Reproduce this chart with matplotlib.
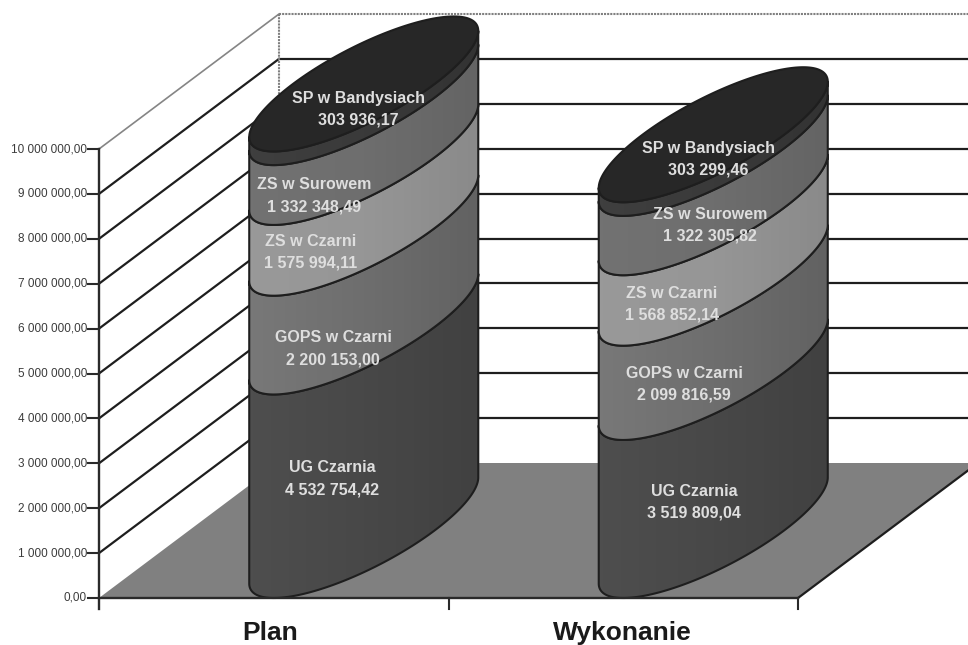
import numpy as np
import matplotlib
matplotlib.use('Agg')
import matplotlib.pyplot as plt
from matplotlib.colors import LinearSegmentedColormap, to_rgb
from matplotlib.patches import Polygon

plt.rcParams['font.family'] = ['Liberation Sans', 'DejaVu Sans']

categories = ['Plan', 'Wykonanie']
series_names = ['UG Czarnia', 'GOPS w Czarni', 'ZS w Czarni', 'ZS w Surowem', 'SP w Bandysiach']
plan_values = [4532754.42, 2200153.00, 1575994.11, 1332348.49, 303936.17]
wyk_values = [3519809.04, 2099816.59, 1568852.14, 1322305.82, 303299.46]
plan_labels = ['4 532 754,42', '2 200 153,00', '1 575 994,11', '1 332 348,49', '303 936,17']
wyk_labels = ['3 519 809,04', '2 099 816,59', '1 568 852,14', '1 322 305,82', '303 299,46']
y_ticks = [0, 1000000, 2000000, 3000000, 4000000, 5000000, 6000000, 7000000, 8000000, 9000000, 10000000]
y_labels = ['0,00', '1 000 000,00', '2 000 000,00', '3 000 000,00', '4 000 000,00', '5 000 000,00',
            '6 000 000,00', '7 000 000,00', '8 000 000,00', '9 000 000,00', '10 000 000,00']

# left, middle, right shade of each cylinder band
side_colors = [('#4e4e4e', '#484848', '#414141'),
               ('#787878', '#6e6e6e', '#626262'),
               ('#999999', '#969696', '#8a8a8a'),
               ('#727272', '#6e6e6e', '#646464'),
               ('#3f3f3f', '#3a3a3a', '#333333')]
top_color = '#272727'
floor_color = '#808080'
line_color = '#1e1e1e'

# layout in pixels of the 968x645 picture
W, H = 968, 645
X0 = 99.0        # front of the value axis
Y0 = 598.0       # row of value 0
PX_PER_UNIT = 449.0 / 10000000
CAT_W = 349.5
DEPTH_X, DEPTH_Y = 180.0, 135.0
RU = 70.8        # ellipse half width across the category
RV = 0.5         # half depth, cylinder fills the floor

# label centres (px from left, first line row from top), same order as series
plan_pos = [(332, 468), (333, 338), (311, 241), (314, 185), (358, 98)]
wyk_pos = [(694, 491), (684, 373), (672, 293), (710, 214), (708, 148)]
cat_label_x = [270, 622.5]

fig = plt.figure(figsize=(W / 100, H / 100), dpi=100)
ax = fig.add_axes([0, 0, 1, 1])
ax.axis('off')

depth_v = DEPTH_Y / PX_PER_UNIT

# the leftmost point of the sheared ellipse, from there along the front to the rightmost
t_right = np.arctan2(DEPTH_X * RV, RU)
t_front = np.linspace(t_right + np.pi, t_right + 2 * np.pi, 200)
t_all = np.linspace(0, 2 * np.pi, 400)


def row(r):
    # pixel row from the top -> value on the y scale
    return (Y0 - r) / PX_PER_UNIT


def ellipse(cat, value, t):
    cx = X0 + (cat + 0.5) * CAT_W + DEPTH_X * RV
    x = cx + RU * np.cos(t) + DEPTH_X * RV * np.sin(t)
    y = value + depth_v * RV + depth_v * RV * np.sin(t)
    return x, y


# walls
for v in y_ticks[1:-1]:
    ax.plot([X0, X0 + DEPTH_X], [v, v + depth_v], color=line_color, lw=1.6, zorder=1)
    ax.plot([X0 + DEPTH_X, W], [v + depth_v, v + depth_v], color=line_color, lw=1.6, zorder=1)
top_v = y_ticks[-1]
ax.plot([X0, X0 + DEPTH_X], [top_v, top_v + depth_v], color='#858585', lw=1.2, zorder=1)
ax.plot([X0 + DEPTH_X, W], [top_v + depth_v] * 2, color='#808080', lw=1.5, ls=(0, (1, 0.5)), zorder=1)
ax.plot([X0 + DEPTH_X] * 2, [depth_v, top_v + depth_v], color='#808080', lw=1.5, ls=(0, (1, 0.5)), zorder=1)

# floor
fx = [X0, X0 + 2 * CAT_W, X0 + 2 * CAT_W + DEPTH_X, X0 + DEPTH_X]
fy = [0, 0, depth_v, depth_v]
ax.fill(fx, fy, color=floor_color, zorder=2, lw=0)
ax.plot([X0 + 2 * CAT_W, X0 + 2 * CAT_W + DEPTH_X], [0, depth_v], color=line_color, lw=1.6, zorder=2)

for cat, values in enumerate([plan_values, wyk_values]):
    bottom = 0
    z = 3
    for val, shades in zip(values, side_colors):
        xb, yb = ellipse(cat, bottom, t_front)
        xt, yt = ellipse(cat, bottom + val, t_front[::-1])
        px = np.r_[xb, xt]
        py = np.r_[yb, yt]
        cmap = LinearSegmentedColormap.from_list('band', [to_rgb(c) for c in shades])
        im = ax.imshow(np.linspace(0, 1, 64).reshape(1, -1), cmap=cmap, aspect='auto',
                       extent=[px.min(), px.max(), py.min(), py.max()], zorder=z)
        im.set_clip_path(Polygon(np.c_[px, py], closed=True, transform=ax.transData))
        ax.fill(px, py, facecolor='none', edgecolor=line_color, lw=1.5, joinstyle='round', zorder=z + 0.5)
        bottom += val
        z += 1
    x, y = ellipse(cat, bottom, t_all)
    ax.fill(x, y, facecolor=top_color, edgecolor=line_color, lw=1.5, zorder=z)

# imshow moves the limits, so set them last
ax.set_xlim(0, W)
ax.set_ylim(-(H - Y0) / PX_PER_UNIT, Y0 / PX_PER_UNIT)

# axes lines and ticks
ax.plot([X0, X0], [row(609), 10000000], color='#2a2a2a', lw=1.7, zorder=10)
ax.plot([X0, X0 + 2 * CAT_W], [0, 0], color='#2a2a2a', lw=1.7, zorder=10)
for i in range(1, 3):
    ax.plot([X0 + i * CAT_W] * 2, [row(609), 0], color='#2a2a2a', lw=1.5, zorder=10)
for v, lab in zip(y_ticks, y_labels):
    ax.plot([88, X0], [v, v], color='#2a2a2a', lw=1.5, zorder=10)
    ax.text(87, v, lab, ha='right', va='center', fontsize=8.5, color='#3c3c3c')

# category labels
for lx, cat in zip(cat_label_x, categories):
    ax.text(lx, row(633), cat, ha='center', va='center', fontsize=19, fontweight='bold', color='#1a1a1a')

# data labels
for pos, labs in [(plan_pos, plan_labels), (wyk_pos, wyk_labels)]:
    for (px, py), name, lab in zip(pos, series_names, labs):
        ax.text(px, row(py), name, ha='center', va='center', fontsize=11.5, fontweight='bold',
                color='#dedede', zorder=20)
        ax.text(px, row(py + 22), lab, ha='center', va='center', fontsize=11.5, fontweight='bold',
                color='#dedede', zorder=20)

fig.savefig('out.png', dpi=100, facecolor='white')
